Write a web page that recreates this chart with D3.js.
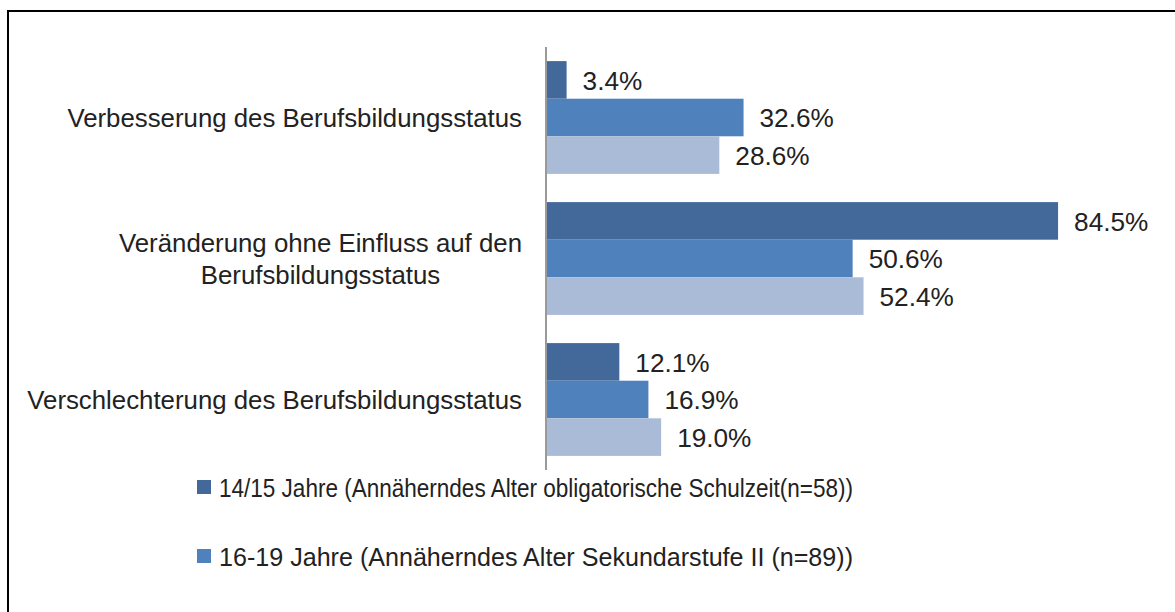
<!DOCTYPE html>
<html>

<head>
    <meta charset="utf-8">
    <style>
        body {
            margin: 0;
            background: #fff;
        }

        svg {
            display: block;
            font-family: 'Liberation Sans', Arial, sans-serif;
        }
    </style>
</head>

<body>
    <svg width="1175" height="612"></svg>
</body>

<script src="https://d3js.org/d3.v7.min.js"></script>

<script>
    // data
    let categories = [
        ["Verbesserung des Berufsbildungsstatus"],
        ["Veränderung ohne Einfluss auf den", "Berufsbildungsstatus"],
        ["Verschlechterung des Berufsbildungsstatus"]
    ]
    let seriesKeys = ["s1", "s2", "s3"]
    let s1Values = [3.4, 84.5, 12.1]
    let s2Values = [32.6, 50.6, 16.9]
    let s3Values = [28.6, 52.4, 19.0]
    let legendLabels = [
        "14/15 Jahre (Annäherndes Alter obligatorische Schulzeit(n=58))",
        "16-19 Jahre (Annäherndes Alter Sekundarstufe II (n=89))"
    ]
    let colors = ["#43699b", "#4f81bd", "#aabbd8"]

    let svg = d3.select("svg")

    // frame (only top and left show inside the picture)
    svg.append("rect")
        .attr("x", 8)
        .attr("y", 11)
        .attr("width", 1300)
        .attr("height", 800)
        .attr("fill", "none")
        .attr("stroke", "#000")
        .attr("stroke-width", 2)

    let catIdx = categories.map((c, i) => i)
    let allValues = [s1Values, s2Values, s3Values]

    let x = d3.scaleLinear()
        .domain([0, 100])
        .range([546, 1152])

    let y = d3.scaleBand()
        .domain(catIdx)
        .range([47, 470])
        .paddingInner(0.2)
        .paddingOuter(0.1)

    let ySub = d3.scaleBand()
        .domain(seriesKeys)
        .range([0, y.bandwidth()])

    let groups = svg.selectAll(".grp")
        .data(catIdx)
        .enter().append("g")
        .attr("class", "grp")
        .attr("transform", d => `translate(0,${y(d)})`)

    seriesKeys.forEach((k, si) => {
        groups.append("rect")
            .attr("x", x(0))
            .attr("y", ySub(k))
            .attr("width", d => x(allValues[si][d]) - x(0))
            .attr("height", ySub.bandwidth())
            .attr("fill", colors[si])

        groups.append("text")
            .attr("x", d => x(allValues[si][d]) + 16)
            .attr("y", ySub(k) + ySub.bandwidth() / 2)
            .attr("dy", "0.38em")
            .style("font-size", "26.2px")
            .style("fill", "#222")
            .text(d => allValues[si][d].toFixed(1) + "%")
    })

    // axis line
    svg.append("line")
        .attr("x1", x(0))
        .attr("x2", x(0))
        .attr("y1", y.range()[0])
        .attr("y2", y.range()[1])
        .style("stroke", "#9a9a9a")
        .style("stroke-width", "2px")

    // category labels, lines centred on each other, block right aligned
    let lineH = 32
    categories.forEach((lines, i) => {
        let cy = y(i) + y.bandwidth() / 2
        let t = svg.append("text")
            .style("font-size", "25.8px")
            .style("fill", "#222")
            .attr("text-anchor", "middle")
        lines.forEach((l, j) => {
            t.append("tspan")
                .attr("y", cy + (j - (lines.length - 1) / 2) * lineH)
                .attr("dy", "0.38em")
                .text(l)
        })
        let w = d3.max(t.selectAll("tspan").nodes(), n => n.getComputedTextLength())
        t.selectAll("tspan").attr("x", 522 - w / 2)
    })

    // legend (long entries get squeezed like in the original)
    let legendMaxW = 634
    legendLabels.forEach((l, i) => {
        let ly = 487 + i * 69
        svg.append("rect")
            .attr("x", 197)
            .attr("y", ly - 7)
            .attr("width", 14)
            .attr("height", 14)
            .attr("fill", colors[i])
        let t = svg.append("text")
            .attr("x", 219)
            .attr("y", ly)
            .attr("dy", "0.37em")
            .style("font-size", "26px")
            .style("fill", "#222")
            .text(l)
        if (t.node().getComputedTextLength() > legendMaxW + 20) {
            t.attr("textLength", legendMaxW).attr("lengthAdjust", "spacingAndGlyphs")
        }
    })
</script>

</html>
